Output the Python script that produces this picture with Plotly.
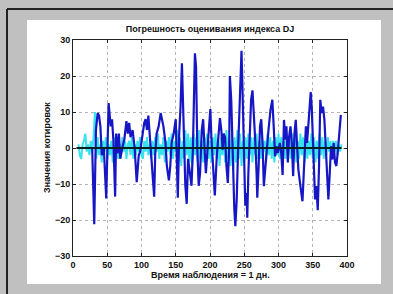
import plotly.graph_objects as go

# Blue series (estimation error)
blue_x = [28, 31, 33.5, 36, 38, 40, 42, 45, 48.5, 50, 52, 55, 57, 59, 61.5, 63, 65, 67, 69, 72, 75, 78, 80, 82, 84, 87,
          90, 93, 96, 98, 100, 104, 106, 108, 110, 112, 114, 116, 118.5, 120, 122, 125, 128, 132, 135, 137, 140, 142,
          144, 147, 150, 151.5, 153, 155, 157, 159, 160, 162, 164, 166, 168, 170, 173, 175, 177, 178, 179.6, 181.5,
          183.5, 185.5, 188, 190, 192, 194, 197, 199, 200.5, 202, 205, 207, 210, 212, 214.5, 216.5, 218.5, 220, 222,
          224, 226, 228, 229, 231, 233, 234, 235.5, 237, 239, 241, 243, 245, 246, 247.6, 249.5, 251.5, 253.4, 254.4,
          256, 258, 260, 262, 264, 266, 268, 269, 271, 273, 274.8, 276.7, 278.6, 280.6, 282.5, 285.4, 288.3, 291, 293,
          295, 297, 299, 302, 304, 306, 308, 310, 311.6, 313.6, 315.5, 317.5, 319.4, 321.4, 323.3, 325.2, 327, 329,
          332, 335, 338, 340, 341.7, 343.7, 345.6, 347, 348.5, 350.5, 352, 353.4, 355.3, 357.3, 359.2, 361, 363, 365,
          367, 369, 371, 372.8, 374.8, 376.7, 378.6, 380.6, 382.5, 384.5, 386.4, 388.3, 391]
blue_y = [0, -21.2, 5, 9.7, 9, 6, -2, 0, -14, 2, 12.5, 6, 8, 2, -13.5, 4, -1.5, 4, -3, 0, 2.5, 7.5, 4, 7, 3, 5,
          0, -9.5, -2, -1, 2, 7, 8, 5, 9, 3, -1.5, -7, -13.5, -2, 4, 6, 9.7, 6, 1.5, -5, -9, -5,
          1.5, 4, 8, -3, -13.8, 4, 11.5, 23.5, 17, -1.5, -10.5, -15.5, -3, -6, -10.5, -0.5, 13.5, 26.3, 22.6, -0.5,
          -10.5, -7, 5, 8, 0, -7, 1.5, 6, 10.8, 3, -9, -13.2, -2, 4, 8.3, 5, -0.5, 4, 3,
          -5, -9.7, 0, 20, 13.4, -0.5, -10.5, -17, -21.7, -14.3, -0.5, 11.5, 19, 27, 15, -5, -16, -12.5, -19.4,
          -7, 4, 13.4, 16, 10.6, 2.3, -7, -13.8, -5, 6, 8, 1.4, -10.6, -6, 0.5, 5, 10.6, 13.4, 6,
          -2.3, 0.5, -1.4, 1.4, -1.4, -7.5, 7.8, 2.3, 6, -4, 3.2, 6, 1.4, -7.8, 4, 7.8, 1.4, -6,
          -10.6, -14.8, -2.3, 6, 1.4, 7.8, 11.5, 15.5, 11.5, 1.4, -10.6, -14.3, -10.6, -17.3, -5, 13.4, 9.7, 11.5,
          7.8, -1.4, -7.8, -14.3, -7, 0.5, -3.2, 1.4, -4, -5, -1.4, 4, 9.2]

# Cyan series (small-amplitude error), one value every 2 days from day 8 to day 392
cyan_x = list(range(8, 393, 2))
cyan_y = [1, -2, -3, 1, 2, 4, -1, 1, -2, 2, -1, 3,
          10, -3,
          3, -2, 1, -4, 2, -1, 3, -3, 1, -2, 2, -4, 3, -1, 2, -3, 1, -2, 3, -1, 2, -3, 1, 2, -2, 3, -3, 1, -2, 2, -1, 3, -2,
          -3, 2, -1, 3, -2, 1, -3, 2, -2, 3, -1, 4, -3, 1, -2, 3, -4, 2, -1, 3, -2, 4, -3, 2, -1,
          5, -4, 3, -5, 2, -3, 5, -2, 4, -4, 3, -5, 4, -2, 3, -4, 5, -3, 2, -4, 3, -1, 4, -3, 2,
          -4, 3, -2, 4, -3, 2, -5, 3, -2, 4, -4, 5, -3, 2, -5, 4, -6, 3, -4, 5, -3, 4, -5, 2, -4, 3, -3, 4, -2, 3,
          -4, 3, -2, 4, -3, 2, -3, 3, -1, 2, -3, 4, -2, 3, -3, 2, -4, 3, -2, 4, -3, 3, -1, 2, -3, 4, -2, 3, -3, 4,
          -3, 3, -4, 2, -3, 4, -2, 3, -4, 4, -3, 2, -2, 4, -3, 3, -4, 2, -3, 4, -2, 3, -3, 2, -2, 3, -1, 2, -3, 2, -1, 2,
          -2, 1, -1, 1]

zero_x = [5, 392]
zero_y = [0, 0]

x_ticks = [0, 50, 100, 150, 200, 250, 300, 350, 400]
y_ticks = [-30, -20, -10, 0, 10, 20, 30]

title_text = "Погрешность оценивания индекса DJ"
x_title = "Время наблюдения = 1 дн."
y_title = "Значения котировок"

W, H = 393, 294
L, R, T, B = 73, 347, 40, 256  # plot area pixel bounds


def px(xp):
    return (xp - L) / (R - L)


def py(yp):
    return (B - yp) / (B - T)


n = min(len(cyan_x), len(cyan_y))

fig = go.Figure()
fig.add_trace(go.Scatter(x=cyan_x[:n], y=cyan_y[:n], mode="lines", line=dict(color="#38e2ec", width=2),
                         hoverinfo="skip"))
fig.add_trace(go.Scatter(x=blue_x, y=blue_y, mode="lines", line=dict(color="#1616c4", width=2.2), hoverinfo="skip"))
fig.add_trace(go.Scatter(x=zero_x, y=zero_y, mode="lines", line=dict(color="#0a2020", width=2), hoverinfo="skip"))

font = dict(family="Liberation Sans, Arial, sans-serif", size=9, color="#111", weight="bold")
tick_font = dict(family="Liberation Sans, Arial, sans-serif", size=9, color="#111", weight="bold")

axis_common = dict(
    showline=True, mirror="ticks", linecolor="#222", linewidth=1,
    ticks="inside", ticklen=3, tickcolor="#222",
    showgrid=True, gridcolor="#b4b4b4", griddash="dot", gridwidth=1,
    zeroline=False, tickfont=tick_font,
)

fig.update_layout(
    width=W, height=H,
    margin=dict(l=L, r=W - R, t=T, b=H - B, autoexpand=False),
    paper_bgcolor="#c0c0c0",
    plot_bgcolor="white",
    showlegend=False,
    title=dict(text=title_text, x=210 / W, xanchor="center",
               y=1 - 29 / H, yanchor="middle", font=font),
    xaxis=dict(range=[0, 400], tickvals=x_ticks, **axis_common),
    yaxis=dict(range=[-30, 30], tickvals=y_ticks, **axis_common),
    annotations=[
        dict(text=x_title, xref="paper", yref="paper", x=px(210), y=py(275), showarrow=False,
             xanchor="center", yanchor="middle", font=font),
        dict(text=y_title, xref="paper", yref="paper", x=px(47), y=py(148), showarrow=False,
             xanchor="center", yanchor="middle", textangle=-90, font=font),
    ],
    shapes=[
        dict(type="rect", xref="paper", yref="paper", x0=px(27), x1=px(381), y0=py(284), y1=py(20),
             fillcolor="white", line=dict(width=0), layer="below"),
        dict(type="line", xref="paper", yref="paper", x0=px(7), x1=px(7), y0=py(9), y1=py(294),
             line=dict(color="#222", width=2)),
        dict(type="line", xref="paper", yref="paper", x0=px(7), x1=px(393), y0=py(9), y1=py(9),
             line=dict(color="#222", width=2)),
    ],
)

fig.write_html("out.html", config={"displayModeBar": False},
               post_script="document.body.style.margin='0';document.body.style.padding='0';")
